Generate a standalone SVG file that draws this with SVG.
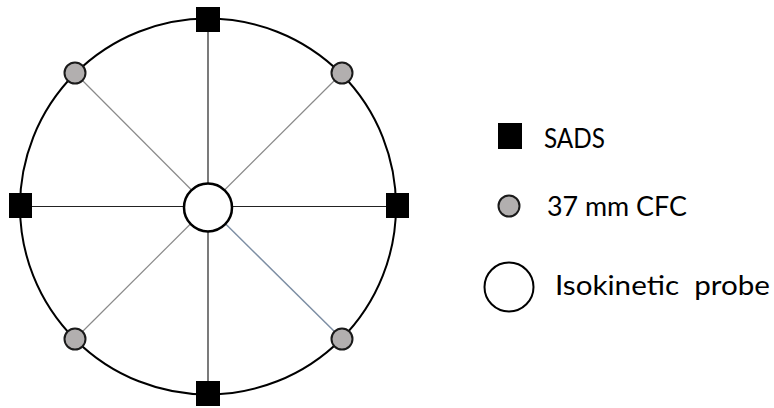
<svg xmlns="http://www.w3.org/2000/svg" width="774" height="408" viewBox="0 0 774 408">
<style>
.sq{fill:#000;}
.cfc{fill:#b2afaf;stroke:#1a1a1a;stroke-width:2;}
.probe{fill:#fff;stroke:#000;stroke-width:2.5;}
.axis{stroke:#222;stroke-width:1.2;}
.diag{stroke:#8a8a8a;stroke-width:1.2;}
.lbl{font-family:"Lato","Open Sans","Liberation Sans",sans-serif;font-size:27px;fill:#000;}
</style>
<rect width="774" height="408" fill="#fff"/>
<g id="ring"><circle cx="208" cy="206.5" r="188" fill="none" stroke="#000" stroke-width="2"/></g>
<g id="connectors">
<line class="axis" x1="208" y1="206.5" x2="208" y2="19"/>
<line class="axis" x1="208" y1="206.5" x2="208" y2="394"/>
<line class="axis" x1="208" y1="206.5" x2="20" y2="206.5"/>
<line class="axis" x1="208" y1="206.5" x2="397" y2="206.5"/>
<line class="diag" x1="208" y1="206.5" x2="75" y2="73"/>
<line class="diag" x1="208" y1="206.5" x2="342" y2="73"/>
<line class="diag" x1="208" y1="206.5" x2="75" y2="339"/>
<line x1="208" y1="206.5" x2="342" y2="339" stroke="#7d8ea3" stroke-width="1.5"/>
</g>
<g id="sads-top"><rect class="sq" x="196" y="7" width="24" height="25"/></g>
<g id="sads-bottom"><rect class="sq" x="196" y="381" width="24" height="25"/></g>
<g id="sads-left"><rect class="sq" x="9" y="193" width="23" height="25"/></g>
<g id="sads-right"><rect class="sq" x="386" y="193" width="23" height="25"/></g>
<g id="cfc-ul"><circle class="cfc" cx="75" cy="73" r="10.5"/></g>
<g id="cfc-ur"><circle class="cfc" cx="342" cy="73" r="10.5"/></g>
<g id="cfc-ll"><circle class="cfc" cx="75" cy="339" r="10.5"/></g>
<g id="cfc-lr"><circle class="cfc" cx="342" cy="339" r="10.5"/></g>
<g id="probe-center"><circle class="probe" cx="208" cy="207.5" r="24"/></g>
<g id="legend-sads">
<rect class="sq" x="498" y="123" width="24" height="26"/>
<text class="lbl" x="544" y="147.5" textLength="61" lengthAdjust="spacingAndGlyphs">SADS</text>
</g>
<g id="legend-cfc">
<circle class="cfc" cx="509" cy="206" r="10.5"/>
<text class="lbl" x="547" y="216" textLength="140" lengthAdjust="spacingAndGlyphs">37 mm CFC</text>
</g>
<g id="legend-probe">
<circle cx="509" cy="287" r="24.5" fill="#fff" stroke="#000" stroke-width="2"/>
<text class="lbl" x="555" y="294.5" textLength="215" lengthAdjust="spacingAndGlyphs" xml:space="preserve">Isokinetic  probe</text>
</g>
</svg>
